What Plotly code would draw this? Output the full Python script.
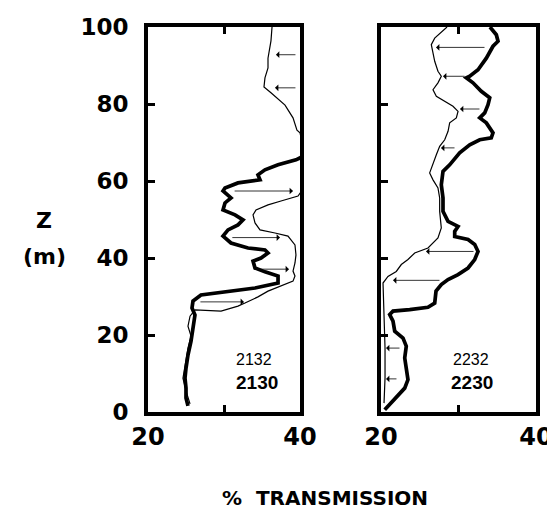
import plotly.graph_objects as go

# ---------------- data ----------------
# Left panel: profile 2132 (thin) and 2130 (thick); depth z (m) vs % transmission
z_2132 = [2.1, 5.5, 8.8, 12.2, 16.6, 19.7, 22.3, 24.9, 26.5, 26.2, 27.5, 28.3, 29.9, 31.4, 32.7,
          34.0, 35.3, 36.6, 38.7, 40.8, 43.4, 45.7, 46.5, 47.3, 49.1, 51.2, 52.5, 53.8, 54.8,
          56.1, 58.2, 66.0, 72.5, 73.2, 76.4, 79.7, 82.9, 84.4, 86.8, 89.4, 91.9, 96.4, 100.0]
t_2132 = [25.53, 25.0, 24.6, 24.87, 25.26, 25.66, 25.26, 25.53, 26.18, 29.61, 31.84, 32.76, 34.47,
          35.79, 37.5, 39.08, 39.34, 39.08, 39.34, 39.47, 39.34, 38.42, 36.71, 34.74, 34.08, 33.82,
          34.21, 35.79, 37.5, 39.74, 40.5, 40.8, 40.0, 39.6, 39.08, 38.03, 36.18, 35.26, 35.39,
          35.79, 35.79, 36.18, 36.32]

z_2130 = [1.6, 3.6, 6.2, 8.8, 11.4, 14.8, 18.4, 21.8, 25.2, 27.0, 28.8, 30.4, 31.4, 32.2, 33.5,
          35.3, 36.4, 37.4, 39.2, 40.0, 41.3, 42.1, 42.6, 43.9, 45.7, 47.3, 48.6, 49.9, 51.2,
          52.5, 54.3, 55.6, 57.4, 58.2, 59.5, 60.0, 60.3, 61.6, 62.9, 64.2, 65.5, 66.5, 80.0, 100.0]
t_2130 = [25.26, 25.0, 25.0, 24.87, 25.0, 25.26, 25.66, 25.92, 26.18, 25.79, 25.92, 26.97, 30.53,
          34.08, 37.11, 37.11, 35.39, 34.08, 33.82, 34.87, 35.79, 35.39, 33.16, 30.92, 29.87,
          30.53, 31.84, 32.5, 31.45, 29.87, 30.13, 30.92, 29.87, 30.13, 31.84, 33.42, 34.74,
          34.47, 35.39, 37.11, 39.47, 40.5, 41.0, 41.0]

# Right panel: profile 2232 (thin) and 2230 (thick)
z_2232 = [2.3, 8.8, 16.6, 27.0, 33.5, 35.2, 36.5, 38.3, 39.6, 41.3, 42.6, 45.2, 47.8, 52.1, 55.6,
          58.2, 60.3, 62.1, 64.2, 66.8, 69.0, 70.7, 72.9, 75.1, 76.4, 78.1, 79.4, 80.7, 82.0,
          83.7, 85.5, 87.2, 88.5, 91.1, 93.7, 95.4, 97.1, 98.9, 100.0]
t_2232 = [20.39, 20.52, 20.52, 20.39, 20.26, 20.9, 21.97, 22.62, 23.48, 24.35, 26.06, 27.35,
          27.78, 27.57, 27.57, 27.35, 26.71, 26.28, 26.71, 27.14, 27.57, 28.22, 28.65, 28.86,
          29.72, 29.94, 29.29, 28.22, 27.14, 26.71, 27.35, 27.78, 27.35, 26.93, 26.71, 26.49,
          26.93, 28.0, 28.52]

z_2230 = [0.6, 1.5, 3.6, 6.2, 8.4, 11.4, 14.0, 17.1, 19.2, 21.0, 23.6, 25.3, 26.2, 26.6, 27.2,
          28.3, 31.4, 33.1, 34.4, 35.7, 37.4, 39.6, 41.7, 43.5, 44.8, 45.6, 46.9, 48.2, 49.5,
          52.1, 55.6, 59.0, 62.5, 64.2, 67.3, 69.4, 70.7, 71.2, 72.5, 75.1, 76.4, 77.7, 79.8,
          81.6, 83.3, 85.5, 86.8, 87.2, 88.9, 91.9, 95.0, 96.3, 98.0, 100.0]
t_2230 = [20.48, 20.9, 21.97, 23.06, 23.48, 23.26, 23.06, 23.26, 22.84, 21.77, 21.55, 21.12,
          21.55, 23.7, 26.06, 26.93, 27.1, 27.78, 28.65, 29.94, 31.23, 32.09, 32.52, 32.09,
          31.23, 29.51, 29.51, 29.94, 28.65, 28.0, 28.0, 27.78, 28.0, 28.86, 30.15, 31.45,
          32.74, 34.23, 34.45, 33.59, 32.74, 33.38, 33.81, 34.03, 32.94, 31.87, 31.01, 31.45,
          32.52, 33.59, 34.45, 35.1, 34.88, 34.06]

# Arrows (depth, from transmission, to transmission)
arr_left_z = [92.8, 84.2, 57.4, 45.3, 37.1, 28.6]
arr_left_from = [39.6, 39.6, 31.2, 30.9, 34.2, 26.7]
arr_left_to = [36.84, 36.71, 39.08, 37.37, 38.55, 32.63]

arr_right_z = [94.7, 87.2, 78.7, 68.6, 41.7, 34.2, 16.6, 8.6]
arr_right_from = [33.55, 30.97, 32.9, 29.68, 32.13, 27.74, 22.58, 22.19]
arr_right_to = [27.10, 28.0, 30.19, 27.74, 25.81, 21.55, 20.65, 20.65]

y_ticks = [0, 20, 40, 60, 80, 100]
x_ticks = [20, 30, 40]
x_ticktext = ["20", "", "40"]

# ---------------- figure ----------------
W, H = 555, 511
fig = go.Figure()

thin = dict(color="black", width=1.2)
thick = dict(color="black", width=3.7)

fig.add_trace(go.Scatter(x=t_2132, y=z_2132, mode="lines", line=thin, xaxis="x", yaxis="y"))
fig.add_trace(go.Scatter(x=t_2130, y=z_2130, mode="lines", line=thick, xaxis="x", yaxis="y"))
fig.add_trace(go.Scatter(x=t_2232, y=z_2232, mode="lines", line=thin, xaxis="x2", yaxis="y2"))
fig.add_trace(go.Scatter(x=t_2230, y=z_2230, mode="lines", line=thick, xaxis="x2", yaxis="y2"))

anns = []
for z, a, b in zip(arr_left_z, arr_left_from, arr_left_to):
    anns.append(dict(x=b, y=z, ax=a, ay=z, xref="x", yref="y", axref="x", ayref="y",
                     text="", showarrow=True, arrowhead=1, arrowsize=1.4, arrowwidth=0.8,
                     arrowcolor="black", standoff=0, startstandoff=0))
for z, a, b in zip(arr_right_z, arr_right_from, arr_right_to):
    anns.append(dict(x=b, y=z, ax=a, ay=z, xref="x2", yref="y2", axref="x2", ayref="y2",
                     text="", showarrow=True, arrowhead=1, arrowsize=1.4, arrowwidth=0.8,
                     arrowcolor="black", standoff=0, startstandoff=0))

thin_font = dict(family="Liberation Sans", size=16, color="black")
bold_font = dict(family="Liberation Sans", size=19, color="black", weight="bold")
anns += [
    dict(x=33.9, y=13.6, xref="x", yref="y", text="2132", showarrow=False, font=thin_font),
    dict(x=34.3, y=7.6, xref="x", yref="y", text="<b>2130</b>", showarrow=False, font=bold_font),
    dict(x=31.6, y=13.6, xref="x2", yref="y2", text="2232", showarrow=False, font=thin_font),
    dict(x=31.8, y=7.6, xref="x2", yref="y2", text="<b>2230</b>", showarrow=False, font=bold_font),
]

lab_font = dict(family="DejaVu Sans", size=22, color="black", weight="bold")
anns += [
    dict(x=36 / W, y=1 - 213 / H, xref="paper", yref="paper", text="<b>Z</b>",
         xanchor="center", yanchor="middle", showarrow=False, font=lab_font),
    dict(x=36 / W, y=1 - 248 / H, xref="paper", yref="paper", text="<b>(m)</b>",
         xanchor="center", yanchor="middle", showarrow=False, font=lab_font),
    dict(x=317 / W, y=1 - 490 / H, xref="paper", yref="paper", text="<b>%  TRANSMISSION</b>",
         xanchor="center", yanchor="middle", showarrow=False,
         font=dict(family="DejaVu Sans", size=20, color="black", weight="bold")),
]

ydom = [1 - 404 / H, 1 - 19 / H]
xtick_font = dict(family="DejaVu Sans", size=24, color="black", weight="bold")
ytick_font = dict(family="DejaVu Sans", size=23, color="black", weight="bold")

def xaxis(domain, anchor):
    return dict(domain=domain, anchor=anchor, range=[20, 40], tickvals=x_ticks, ticktext=x_ticktext,
                ticks="inside", ticklen=7, tickwidth=3, tickcolor="black",
                showline=True, linewidth=4, linecolor="black", mirror="ticks",
                showgrid=False, zeroline=False, tickfont=xtick_font, ticklabelstandoff=0)

def yaxis(anchor, labels):
    return dict(domain=ydom, anchor=anchor, range=[0, 100], tickvals=y_ticks,
                ticks="inside", ticklen=7, tickwidth=3, tickcolor="black",
                showline=True, linewidth=4, linecolor="black", mirror=True,
                showgrid=False, zeroline=False, showticklabels=labels, tickfont=ytick_font,
                ticklabelstandoff=11)

fig.update_layout(
    width=W, height=H,
    margin=dict(l=0, r=0, t=0, b=0, autoexpand=False),
    paper_bgcolor="white", plot_bgcolor="white",
    showlegend=False,
    xaxis=xaxis([140 / W, 292 / W], "y"),
    yaxis=yaxis("x", True),
    xaxis2=xaxis([373 / W, 528 / W], "y2"),
    yaxis2=yaxis("x2", False),
    annotations=anns,
)

fig.write_html("out.html")
